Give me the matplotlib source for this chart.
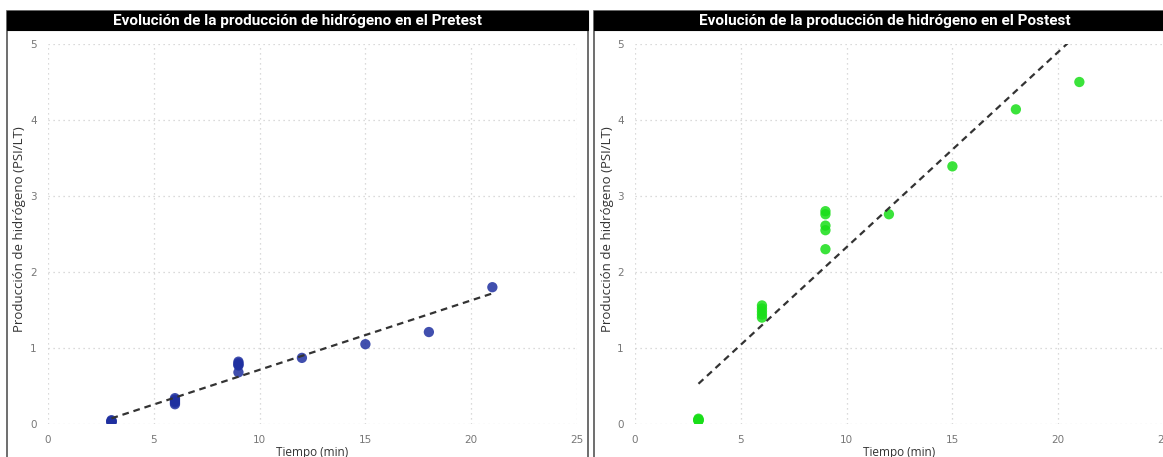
import numpy as np
import matplotlib
matplotlib.use("Agg")
import matplotlib.pyplot as plt
from matplotlib.patches import Rectangle

# Pretest measurements: time (min) vs hydrogen production (PSI/LT)
pre_time = [3, 3, 3, 3, 3, 6, 6, 6, 6, 6, 9, 9, 9, 9, 9, 12, 15, 18, 21]
pre_prod = [0.03, 0.04, 0.02, 0.03, 0.05,
            0.34, 0.32, 0.30, 0.28, 0.26,
            0.82, 0.80, 0.78, 0.77, 0.68,
            0.87, 1.05, 1.21, 1.80]

# Postest measurements
post_time = [3, 3, 3, 3, 3, 6, 6, 6, 6, 6, 9, 9, 9, 9, 9, 12, 15, 18, 21]
post_prod = [0.05, 0.06, 0.04, 0.05, 0.07,
             1.56, 1.52, 1.48, 1.44, 1.40,
             2.80, 2.76, 2.61, 2.55, 2.30,
             2.76, 3.39, 4.14, 4.50]

titles = ["Evolución de la producción de hidrógeno en el Pretest",
          "Evolución de la producción de hidrógeno en el Postest"]
x_label = "Tiempo (min)"
y_label = "Producción de hidrógeno (PSI/LT)"
x_ticks = [0, 5, 10, 15, 20, 25]
y_ticks = [0, 1, 2, 3, 4, 5]

W, H = 1163, 457
fig = plt.figure(figsize=(W / 100, H / 100), dpi=100)
fig.patch.set_facecolor("white")


def fx(px):
    return px / W


def fy(py):
    return 1 - py / H


panels = [
    dict(left=7, right=588, ax_left=48, data=(pre_time, pre_prod), color="#1f30a0"),
    dict(left=594, right=1176, ax_left=635, data=(post_time, post_prod), color="#19de19"),
]

ax_w = 529
ax_bottom_px, ax_top_px = 424, 44

for p, title in zip(panels, titles):
    # panel frame
    fig.add_artist(Rectangle((fx(p["left"]), fy(470)), fx(p["right"] - p["left"]),
                             (470 - 11) / H, transform=fig.transFigure,
                             facecolor="white", edgecolor="#555555", linewidth=1.2,
                             zorder=0))
    # title bar
    fig.add_artist(Rectangle((fx(p["left"]), fy(30)), fx(p["right"] - p["left"]),
                             19 / H, transform=fig.transFigure,
                             facecolor="black", edgecolor="black", linewidth=0.8,
                             zorder=1))
    fig.text(fx((p["left"] + p["right"]) / 2), fy(20.5), title, color="white",
             ha="center", va="center", fontsize=11, fontweight="bold",
             family=["Roboto", "DejaVu Sans"], zorder=2)

    ax = fig.add_axes([fx(p["ax_left"]), fy(ax_bottom_px), ax_w / W,
                       (ax_bottom_px - ax_top_px) / H])
    ax.set_facecolor("none")
    ax.set_xlim(0, 25)
    ax.set_ylim(0, 5)
    ax.set_xticks(x_ticks)
    ax.set_yticks(y_ticks)
    for s in ax.spines.values():
        s.set_visible(False)
    ax.grid(True, color="#cfcfcf", linestyle=(0, (1, 3)), linewidth=0.9)
    ax.tick_params(length=0, labelsize=7.5, labelcolor="#777777", pad=8)
    ax.set_axisbelow(True)

    t, v = p["data"]
    ax.scatter(t, v, s=55, color=p["color"], alpha=0.85, edgecolors="none", zorder=3)

    # least-squares trend line
    slope, icpt = np.polyfit(t, v, 1)
    xs = np.array([min(t), max(t)])
    ax.plot(xs, slope * xs + icpt, linestyle=(0, (3, 2.2)), color="#333333",
            linewidth=1.6, zorder=4, clip_on=True)

    fig.text(fx(p["ax_left"] + ax_w / 2), fy(452.5), x_label, ha="center", va="center",
             fontsize=8.5, color="#333333", family="Open Sans")
    fig.text(fx(p["ax_left"] - 28), fy(229), y_label, ha="center", va="center",
             rotation=90, fontsize=9.5, color="#333333", family="Open Sans")

fig.savefig("out.png", dpi=100, facecolor="white")
